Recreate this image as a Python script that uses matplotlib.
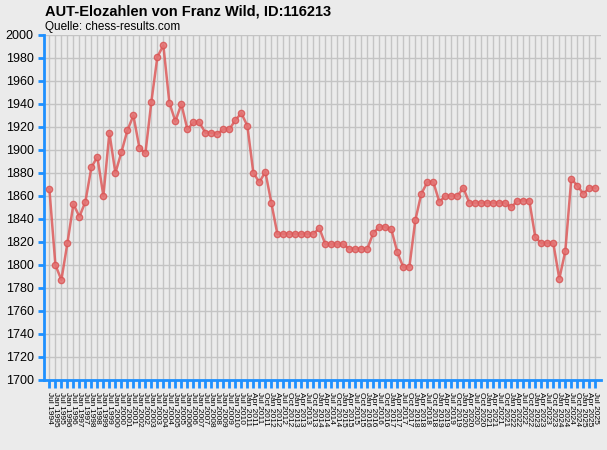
import matplotlib
matplotlib.use("Agg")
from matplotlib import pyplot as plt

# Schrift wie im Original (Arial-aehnlich)
plt.rcParams['font.family'] = ['Liberation Sans', 'DejaVu Sans']

# Datumsangaben: halbjaehrlich bis 2010, danach vierteljaehrlich
dates = []
dates.append("Jul 1994")
for y in range(1995, 2011):
    dates.append("Jan %d" % y)
    dates.append("Jul %d" % y)
for y in range(2011, 2026):
    for m in ["Jan", "Apr", "Jul", "Oct"]:
        if y == 2025 and m == "Oct":
            break
        dates.append("%s %d" % (m, y))

elo = [1866, 1800, 1787, 1819, 1853, 1842, 1855, 1885, 1894, 1860,
       1915, 1880, 1898, 1917, 1930, 1902, 1897, 1942, 1981, 1991,
       1941, 1925, 1940, 1918, 1924, 1924, 1915, 1915, 1914, 1918,
       1918, 1926, 1932, 1921, 1880, 1872, 1881, 1854, 1827, 1827,
       1827, 1827, 1827, 1827, 1827, 1832, 1818, 1818, 1818, 1818,
       1814, 1814, 1814, 1814, 1828, 1833, 1833, 1831, 1811, 1798,
       1798, 1839, 1862, 1872, 1872, 1855, 1860, 1860, 1860, 1867,
       1854, 1854, 1854, 1854, 1854, 1854, 1854, 1850, 1856, 1856,
       1856, 1824, 1819, 1819, 1819, 1788, 1812, 1875, 1869, 1862,
       1867, 1867]

bg = "#ebebeb"
blue = "#1e90ff"

fig = plt.figure(figsize=(6.07, 4.5), dpi=100)
fig.patch.set_facecolor(bg)
ax = fig.add_axes([44 / 607, 70 / 450, 557 / 607, 345 / 450])
ax.set_facecolor(bg)

x = list(range(len(elo)))
ax.plot(x, elo, color="#dd5a5a", alpha=0.85, linewidth=1.8,
        marker="o", markersize=4.5, markerfacecolor="#e57373",
        markeredgecolor="#d95555", markeredgewidth=1, zorder=3)

ax.set_xlim(-0.9, len(elo) - 1 + 0.95)
ax.set_ylim(1700, 2000)
ax.set_yticks(range(1700, 2001, 20))
ax.set_xticks(x)
ax.set_xticklabels(dates[:len(elo)], rotation=-90, fontsize=6)
ax.tick_params(axis="y", colors=blue, labelcolor="black", labelsize=9,
               length=4, width=2)
ax.tick_params(axis="x", colors=blue, labelcolor="black", length=6,
               width=2, pad=3)

ax.grid(True, color="#c4c4c4", linewidth=1)
ax.set_axisbelow(True)
for s in ["top", "right"]:
    ax.spines[s].set_visible(False)
for s in ["left", "bottom"]:
    ax.spines[s].set_color(blue)
    ax.spines[s].set_linewidth(2)

fig.text(45 / 607, 1 - 12 / 450, "AUT-Elozahlen von Franz Wild, ID:116213",
         fontsize=10.5, fontweight="bold", va="center", ha="left")
fig.text(45 / 607, 1 - 27 / 450, "Quelle: chess-results.com",
         fontsize=8.5, va="center", ha="left")

fig.savefig("out.png", dpi=100, facecolor=bg)
